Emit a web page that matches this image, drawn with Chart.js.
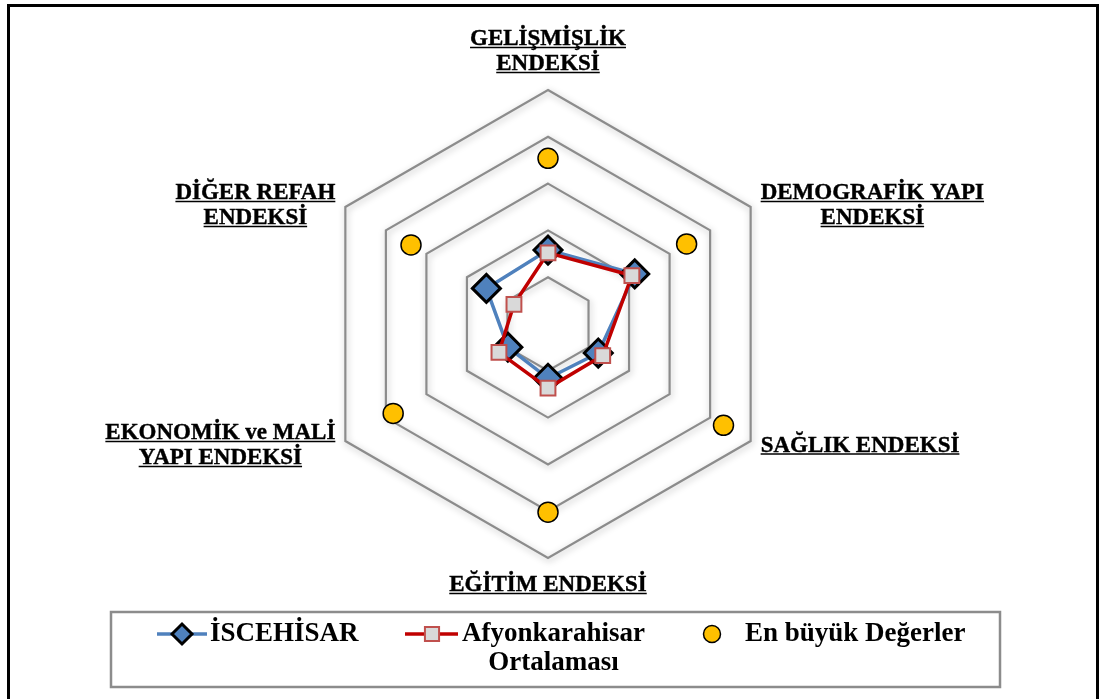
<!DOCTYPE html>
<html>
<head>
<meta charset="utf-8">
<script src="https://cdn.jsdelivr.net/npm/chart.js@4.4.0/dist/chart.umd.min.js"></script>
<style>
  html, body { margin: 0; padding: 0; background: #fff; }
  #wrap { width: 1101px; height: 699px; position: relative; }
</style>
</head>
<body>
<div id="wrap"><canvas id="radar" width="1101" height="699"></canvas></div>
<script>
// axis labels (each one split in lines like the original)
const axisLabels = [
  ['GELİŞMİŞLİK', 'ENDEKSİ'],
  ['DEMOGRAFİK YAPI', 'ENDEKSİ'],
  ['SAĞLIK ENDEKSİ'],
  ['EĞİTİM ENDEKSİ'],
  ['EKONOMİK ve MALİ', 'YAPI ENDEKSİ'],
  ['DİĞER REFAH', 'ENDEKSİ']
];
const seriesNames = ['İSCEHİSAR', 'Afyonkarahisar Ortalaması', 'En büyük Değerler'];
const iscehisar = [1.58, 2.14, 1.24, 1.16, 0.99, 1.52];
const afyonOrt = [1.52, 2.07, 1.35, 1.37, 1.21, 0.84];
const enBuyuk = [3.54, 3.42, 4.33, 4.02, 3.82, 3.38];
const scaleMin = 0, scaleMax = 5, scaleStep = 1;

const FONT = '"Liberation Serif", "Times New Roman", serif';

// soft shadow under the grid polygons, off again before the datasets
const gridShadow = {
  id: 'gridShadow',
  beforeDraw(chart) {
    const ctx = chart.ctx;
    ctx.save();
    ctx.shadowColor = 'rgba(0,0,0,0.28)';
    ctx.shadowBlur = 7;
    ctx.shadowOffsetX = 1;
    ctx.shadowOffsetY = 2;
  },
  beforeDatasetsDraw(chart) {
    chart.ctx.restore();
  }
};

// underlined bold labels around the outer polygon
const axisLabelPlugin = {
  id: 'axisLabelPlugin',
  afterDraw(chart) {
    const ctx = chart.ctx, scale = chart.scales.r;
    ctx.save();
    ctx.font = 'bold 23px ' + FONT;
    ctx.fillStyle = '#000';
    ctx.strokeStyle = '#000';
    ctx.lineWidth = 1.6;
    ctx.textBaseline = 'alphabetic';
    const lh = 25, cap = 15, gap = 10;
    axisLabels.forEach((lines, i) => {
      const p = scale.getPointPosition(i, scale.drawingArea);
      const dx = p.x - scale.xCenter, dy = p.y - scale.yCenter;
      const widths = lines.map(t => ctx.measureText(t).width);
      const bw = Math.max(...widths);
      const bh = cap + lh * (lines.length - 1);
      let cx, top;
      if (Math.abs(dx) < 1) {
        cx = p.x;
        top = dy < 0 ? p.y - 20 - bh : p.y + 18;
      } else {
        cx = dx > 0 ? p.x + gap + bw / 2 : p.x - gap - bw / 2;
        top = p.y + (dy > 0 ? 3 : -3) - bh / 2;
      }
      lines.forEach((t, j) => {
        const base = top + cap + j * lh;
        const x0 = cx - widths[j] / 2;
        ctx.fillText(t, x0, base);
        ctx.lineWidth = 0.4;
        ctx.strokeText(t, x0, base);
        ctx.lineWidth = 1.6;
        ctx.beginPath();
        ctx.moveTo(x0, base + 2.5);
        ctx.lineTo(x0 + widths[j], base + 2.5);
        ctx.stroke();
      });
    });
    ctx.restore();
  }
};

// legend box + outer frame
const legendPlugin = {
  id: 'legendPlugin',
  afterDraw(chart) {
    const ctx = chart.ctx;
    ctx.save();
    ctx.strokeStyle = '#000';
    ctx.lineWidth = 3;
    ctx.strokeRect(8.5, 5.5, 1089, 720);

    ctx.strokeStyle = '#8c8c8c';
    ctx.lineWidth = 2.5;
    ctx.strokeRect(111, 612, 889, 75);

    const y = 634;
    const items = [
      { ds: 0, lineFrom: 157, lineTo: 207, mx: 182, tx: 210, r: 10 },
      { ds: 1, lineFrom: 405, lineTo: 458, mx: 432, tx: 462, r: 10 },
      { ds: 2, lineFrom: null, lineTo: null, mx: 712, tx: 745, r: 8.5 }
    ];
    ctx.font = 'bold 27px ' + FONT;
    ctx.textBaseline = 'middle';
    items.forEach(it => {
      const ds = chart.data.datasets[it.ds];
      if (it.lineFrom !== null) {
        ctx.strokeStyle = ds.borderColor;
        ctx.lineWidth = 3.5;
        ctx.beginPath();
        ctx.moveTo(it.lineFrom, y);
        ctx.lineTo(it.lineTo, y);
        ctx.stroke();
      }
      ctx.fillStyle = ds.pointBackgroundColor;
      ctx.strokeStyle = ds.pointBorderColor;
      ctx.lineWidth = ds.pointBorderWidth;
      Chart.helpers.drawPoint(ctx, {
        pointStyle: ds.pointStyle, radius: it.r, rotation: 0, borderWidth: ds.pointBorderWidth
      }, it.mx, y);
      ctx.fillStyle = '#000';
      if (it.ds === 1) {
        ctx.textAlign = 'left';
        ctx.fillText('Afyonkarahisar', it.tx, y);
        const w = ctx.measureText('Afyonkarahisar').width;
        ctx.textAlign = 'center';
        ctx.fillText('Ortalaması', it.tx + w / 2, y + 29);
      } else {
        ctx.textAlign = 'left';
        ctx.fillText(ds.label, it.tx, y);
      }
    });
    ctx.restore();
  }
};

new Chart(document.getElementById('radar').getContext('2d'), {
  type: 'radar',
  data: {
    labels: axisLabels,
    datasets: [
      {
        label: seriesNames[0],
        data: iscehisar,
        borderColor: '#4f81bd',
        borderWidth: 3.5,
        fill: false,
        pointStyle: 'rectRot',
        pointRadius: 14,
        pointBackgroundColor: '#4f81bd',
        pointBorderColor: '#000',
        pointBorderWidth: 3,
        order: 2
      },
      {
        label: seriesNames[1],
        data: afyonOrt,
        borderColor: '#c00000',
        borderWidth: 3.5,
        fill: false,
        pointStyle: 'rect',
        pointRadius: 10.5,
        pointBackgroundColor: '#d9d9d9',
        pointBorderColor: '#c0504d',
        pointBorderWidth: 2,
        order: 1
      },
      {
        label: seriesNames[2],
        data: enBuyuk,
        showLine: false,
        borderColor: 'rgba(0,0,0,0)',
        fill: false,
        pointStyle: 'circle',
        pointRadius: 10,
        pointBackgroundColor: '#ffc000',
        pointBorderColor: '#000',
        pointBorderWidth: 1.5,
        order: 3
      }
    ]
  },
  options: {
    responsive: false,
    animation: false,
    layout: { padding: { left: 314, right: 319, top: 90, bottom: 141 } },
    plugins: {
      legend: { display: false },
      tooltip: { enabled: false }
    },
    elements: { line: { tension: 0 } },
    scales: {
      r: {
        min: scaleMin,
        max: scaleMax,
        ticks: { display: false, stepSize: scaleStep },
        grid: { circular: false, color: '#8c8c8c', lineWidth: 2.2 },
        angleLines: { display: false },
        pointLabels: { display: false }
      }
    }
  },
  plugins: [gridShadow, axisLabelPlugin, legendPlugin]
});
</script>
</body>
</html>
